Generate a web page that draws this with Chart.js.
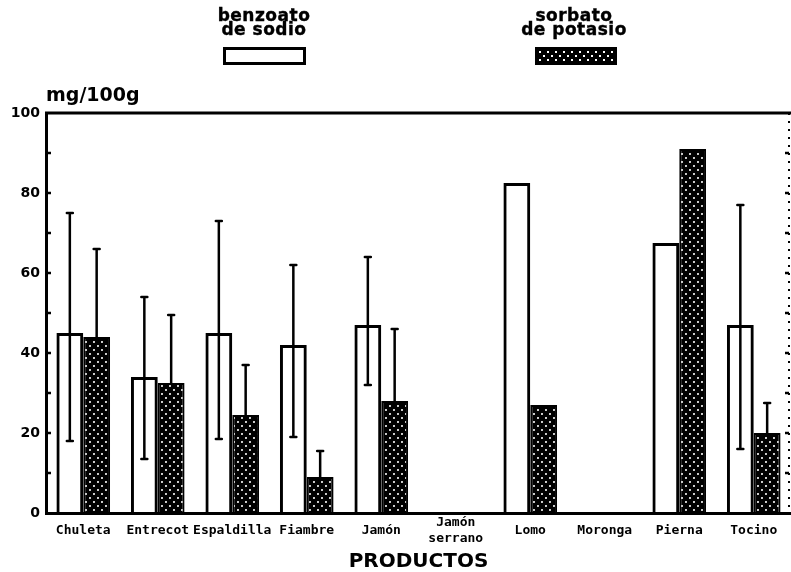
<!DOCTYPE html>
<html><head><meta charset="utf-8">
<script src="https://cdn.jsdelivr.net/npm/chart.js@4.4.0/dist/chart.umd.min.js"></script>
<style>
html,body{margin:0;padding:0;background:#fff;}
#wrap{position:relative;width:791px;height:572px;overflow:hidden;}
canvas{position:absolute;left:0;top:0;}
.lg{position:absolute;font-family:"DejaVu Sans";font-weight:bold;font-size:17px;line-height:14px;letter-spacing:0.5px;text-align:center;color:#000;white-space:nowrap;-webkit-text-stroke:0.4px #000;}
.unit{position:absolute;left:46px;top:85px;font-family:"DejaVu Sans";font-weight:bold;font-size:19px;line-height:19px;color:#000;}
.box{position:absolute;top:47px;height:12px;border:3px solid #000;}
.hatch{background-color:#000;background-image:radial-gradient(circle at 2px 2px,#fff 0.9px,rgba(255,255,255,0) 1.5px),radial-gradient(circle at 6px 6px,#fff 0.9px,rgba(255,255,255,0) 1.5px);background-size:8px 8px;}
</style></head><body>
<div id="wrap">
<canvas id="c" width="791" height="572"></canvas>
<div class="lg" style="left:204px;top:8px;width:120px;">benzoato<br>de sodio</div>
<div class="box" style="left:223px;width:77px;background:#fff;"></div>
<div class="lg" style="left:514px;top:8px;width:120px;">sorbato<br>de potasio</div>
<div class="box hatch" style="left:535px;width:76px;"></div>
<div class="unit">mg/100g</div>
</div>
<script>
const categories = ['Chuleta','Entrecot','Espaldilla','Fiambre','Jamón',['Jamón','serrano'],'Lomo','Moronga','Pierna','Tocino'];
const benzoato = [45, 34, 45, 42, 47, null, 82.5, null, 67.5, 47];
const sorbato = [44, 32.5, 24.5, 9, 28, null, 27, null, 91, 20];
const benzoatoErrHigh = [75, 54, 73, 62, 64, null, null, null, null, 77];
const benzoatoErrLow = [18, 13.5, 18.5, 19, 32, null, null, null, null, 16];
const sorbatoErrHigh = [66, 49.5, 37, 15.5, 46, null, null, null, null, 27.5];
const yTickLabels = [0, 20, 40, 60, 80, 100];

function makePattern(){
  const p = document.createElement('canvas');
  p.width = 8; p.height = 8;
  const g = p.getContext('2d');
  g.fillStyle = '#000'; g.fillRect(0,0,8,8);
  g.fillStyle = '#fff';
  [[2,2],[6,6]].forEach(([x,y])=>{g.beginPath();g.arc(x,y,1.05,0,Math.PI*2);g.fill();});
  return document.getElementById('c').getContext('2d').createPattern(p,'repeat');
}

const errorBars = {
  id:'errorBars',
  beforeDatasetsDraw(chart){
    const ctx = chart.ctx, y = chart.scales.y;
    const sets = [
      {i:0, high:benzoatoErrHigh, low:benzoatoErrLow},
      {i:1, high:sorbatoErrHigh, low:sorbato}
    ];
    ctx.save();
    ctx.strokeStyle = '#000'; ctx.lineWidth = 2.5; ctx.lineCap = 'round';
    sets.forEach(s=>{
      const meta = chart.getDatasetMeta(s.i);
      meta.data.forEach((bar,j)=>{
        if (s.high[j] == null) return;
        const x = bar.x;
        const yh = y.getPixelForValue(s.high[j]);
        const yl = y.getPixelForValue(s.low[j]);
        ctx.beginPath();
        ctx.moveTo(x,yh); ctx.lineTo(x,yl);
        ctx.moveTo(x-3,yh); ctx.lineTo(x+3,yh);
        if (s.i===0){ ctx.moveTo(x-3,yl); ctx.lineTo(x+3,yl); }
        ctx.stroke();
      });
    });
    ctx.restore();
  }
};

const frame = {
  id:'frame',
  afterDraw(chart){
    const ctx = chart.ctx, a = chart.chartArea, y = chart.scales.y;
    const rx = Math.min(a.right, 789);
    ctx.save();
    ctx.strokeStyle = '#000';
    ctx.lineWidth = 3;
    ctx.beginPath(); ctx.moveTo(a.left-1, a.top); ctx.lineTo(791, a.top); ctx.stroke();
    ctx.lineWidth = 2;
    ctx.setLineDash([2,6]);
    ctx.beginPath(); ctx.moveTo(rx, a.top); ctx.lineTo(rx, a.bottom); ctx.stroke();
    ctx.setLineDash([]);
    ctx.lineWidth = 2.5;
    for (let v=10; v<100; v+=10){
      const py = y.getPixelForValue(v);
      ctx.beginPath(); ctx.moveTo(a.left, py); ctx.lineTo(a.left+5, py); ctx.stroke();
      ctx.beginPath(); ctx.moveTo(rx-4, py); ctx.lineTo(rx, py); ctx.stroke();
    }
    ctx.restore();
  }
};

new Chart(document.getElementById('c'), {
  type:'bar',
  data:{
    labels: categories,
    datasets:[
      {label:'benzoato de sodio', data:benzoato, backgroundColor:'rgba(255,255,255,0)', borderColor:'#000', borderWidth:3,
       categoryPercentage:0.72, barPercentage:1},
      {label:'sorbato de potasio', data:sorbato, backgroundColor:makePattern(), borderColor:'#000', borderWidth:2,
       categoryPercentage:0.72, barPercentage:1}
    ]
  },
  options:{
    responsive:false, animation:false, devicePixelRatio:1,
    layout:{padding:{top:113, right:-4, left:0, bottom:0}},
    plugins:{legend:{display:false}, tooltip:{enabled:false}},
    scales:{
      x:{
        grid:{display:false, drawTicks:false},
        border:{display:true, color:'#000', width:3},
        ticks:{color:'#000', autoSkip:false, maxRotation:0, minRotation:0, crossAlign:'center', padding:10,
               font:{family:'DejaVu Sans Mono', weight:'bold', size:13, lineHeight:1.2}},
        title:{display:true, text:'PRODUCTOS', color:'#000', padding:0,
               font:{family:'DejaVu Sans', weight:'bold', size:20, lineHeight:1}},
        afterFit(s){ s.height = 59; }
      },
      y:{
        min:0, max:100,
        grid:{display:false, drawTicks:false},
        border:{display:true, color:'#000', width:3},
        ticks:{stepSize:20, color:'#000', padding:6,
               callback:(v)=> yTickLabels.includes(v) ? String(v) : '',
               font:{family:'DejaVu Sans', weight:'bold', size:14}},
        afterFit(s){ s.width = 46; }
      }
    }
  },
  plugins:[errorBars, frame]
});
</script>
</body></html>
